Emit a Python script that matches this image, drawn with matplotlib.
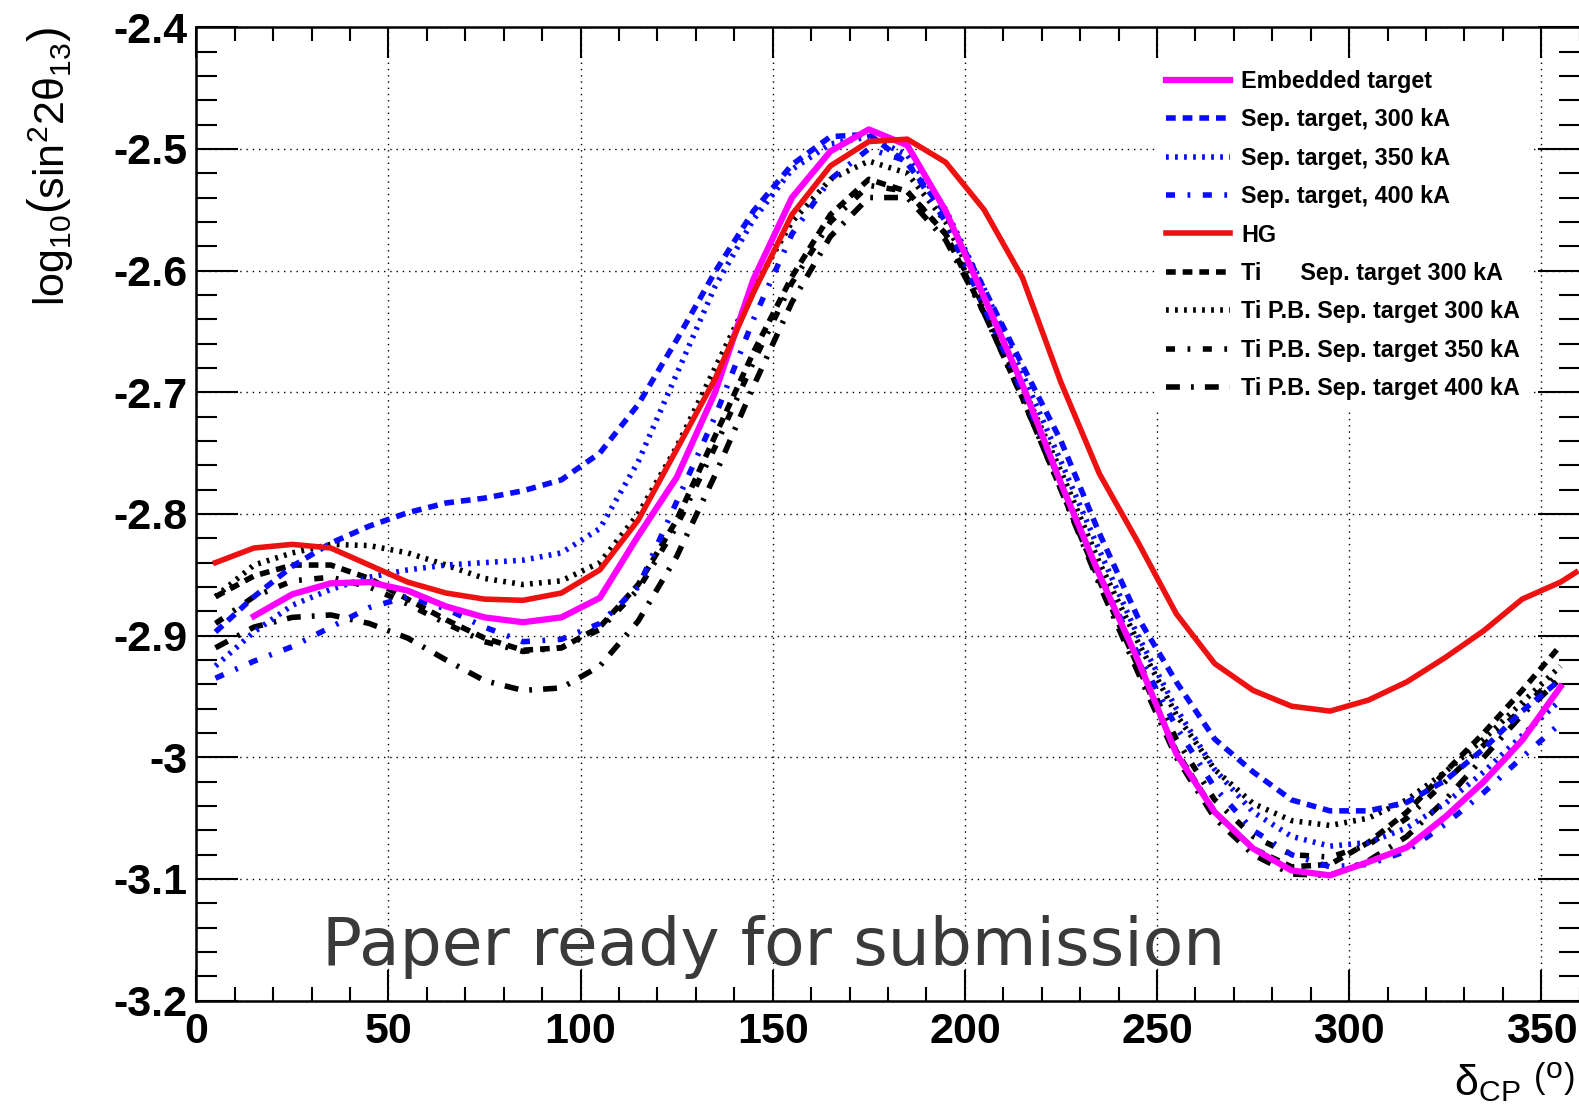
import numpy as np
import matplotlib
matplotlib.use("Agg")
import matplotlib.pyplot as plt
from matplotlib.ticker import MultipleLocator, FuncFormatter

plt.rcParams['font.family'] = ['Liberation Sans', 'DejaVu Sans']
plt.rcParams['axes.unicode_minus'] = False
plt.rcParams['mathtext.fontset'] = 'custom'
plt.rcParams['mathtext.rm'] = 'Liberation Sans'
plt.rcParams['mathtext.it'] = 'Liberation Sans:italic'
plt.rcParams['mathtext.bf'] = 'Liberation Sans:bold'
plt.rcParams['lines.scale_dashes'] = False

nan = np.nan

# delta_CP (deg)
delta = [5, 15, 25, 35, 45, 55, 65, 75, 85, 95, 105, 115, 125, 135, 145, 155, 165, 175,
         185, 195, 205, 215, 225, 235, 245, 255, 265, 275, 285, 295, 305, 315, 325, 335, 345, 355]

embedded = [nan, -2.884, -2.866, -2.857, -2.856, -2.863, -2.876, -2.885, -2.889, -2.885, -2.869, -2.818,
            -2.770, -2.700, -2.607, -2.540, -2.502, -2.484, -2.497, -2.551, -2.622, -2.694, -2.775, -2.850,
            -2.920, -2.997, -3.045, -3.075, -3.093, -3.097, -3.086, -3.074, -3.049, -3.020, -2.986, -2.942]
sep300 = [-2.897, -2.868, -2.843, -2.824, -2.810, -2.799, -2.791, -2.787, -2.781, -2.772, -2.750, -2.710,
          -2.657, -2.601, -2.551, -2.513, -2.490, -2.488, -2.512, -2.553, -2.615, -2.678, -2.740, -2.816,
          -2.885, -2.938, -2.985, -3.012, -3.035, -3.044, -3.044, -3.037, -3.019, -2.993, -2.962, -2.936]
sep350 = [-2.925, -2.897, -2.875, -2.862, -2.852, -2.846, -2.842, -2.840, -2.838, -2.832, -2.812, -2.757,
          -2.685, -2.613, -2.558, -2.517, -2.496, -2.490, -2.505, -2.550, -2.615, -2.685, -2.757, -2.830,
          -2.900, -2.960, -3.010, -3.045, -3.065, -3.073, -3.070, -3.058, -3.038, -3.012, -2.982, -2.953]
sep400 = [-2.935, -2.921, -2.909, -2.893, -2.877, -2.868, -2.878, -2.893, -2.905, -2.903, -2.890, -2.860,
          -2.790, -2.720, -2.640, -2.570, -2.525, -2.500, -2.510, -2.560, -2.630, -2.700, -2.775, -2.850,
          -2.915, -2.975, -3.025, -3.060, -3.080, -3.090, -3.088, -3.077, -3.055, -3.029, -3.000, -2.972]
ti300 = [-2.868, -2.851, -2.842, -2.842, -2.853, -2.870, -2.887, -2.902, -2.912, -2.910, -2.893, -2.858,
         -2.805, -2.736, -2.667, -2.605, -2.554, -2.525, -2.535, -2.570, -2.635, -2.705, -2.780, -2.855,
         -2.925, -2.995, -3.045, -3.075, -3.090, -3.088, -3.070, -3.045, -3.012, -2.980, -2.945, -2.908]
tipb300 = [-2.868, -2.842, -2.832, -2.825, -2.826, -2.832, -2.842, -2.853, -2.858, -2.855, -2.840, -2.800,
           -2.745, -2.680, -2.615, -2.560, -2.525, -2.510, -2.520, -2.560, -2.625, -2.695, -2.765, -2.840,
           -2.905, -2.965, -3.010, -3.038, -3.052, -3.056, -3.050, -3.035, -3.012, -2.985, -2.955, -2.925]
tipb350 = [-2.890, -2.868, -2.855, -2.852, -2.860, -2.874, -2.890, -2.905, -2.913, -2.910, -2.895, -2.862,
           -2.810, -2.745, -2.675, -2.610, -2.560, -2.530, -2.535, -2.570, -2.630, -2.700, -2.775, -2.850,
           -2.920, -2.985, -3.035, -3.065, -3.080, -3.082, -3.072, -3.050, -3.020, -2.990, -2.960, -2.930]
tipb400 = [-2.910, -2.893, -2.885, -2.883, -2.890, -2.902, -2.920, -2.937, -2.945, -2.943, -2.925, -2.888,
           -2.835, -2.768, -2.695, -2.626, -2.572, -2.540, -2.540, -2.575, -2.635, -2.705, -2.780, -2.858,
           -2.930, -3.000, -3.050, -3.080, -3.096, -3.097, -3.085, -3.065, -3.035, -3.000, -2.965, -2.935]

# HG curve runs up to the right edge
hg_delta = delta + [359]
hg = [-2.840, -2.828, -2.825, -2.828, -2.842, -2.856, -2.865, -2.870, -2.871, -2.865, -2.846, -2.805,
      -2.747, -2.689, -2.618, -2.554, -2.514, -2.494, -2.492, -2.511, -2.550, -2.606, -2.692, -2.767,
      -2.823, -2.882, -2.923, -2.945, -2.958, -2.962, -2.953, -2.938, -2.918, -2.896, -2.870, -2.856, -2.848]

labels = ['Embedded target', 'Sep. target, 300 kA', 'Sep. target, 350 kA', 'Sep. target, 400 kA',
          'HG', 'Ti      Sep. target 300 kA', 'Ti P.B. Sep. target 300 kA',
          'Ti P.B. Sep. target 350 kA', 'Ti P.B. Sep. target 400 kA']

fig = plt.figure(figsize=(15.79, 11.05), dpi=100)
ax = fig.add_axes([0.1243, 0.0944, 0.8762, 0.8810])

lw = 4
blue = '#0a0aff'
dash = (0, (7, 5))
dot = (0, (2, 4.5))
dashdot = (0, (6.5, 9, 2, 9))
longdashdot = (0, (10, 8, 2, 8))

h_ti300, = ax.plot(delta, ti300, color='k', lw=lw, ls=dash)
h_tipb300, = ax.plot(delta, tipb300, color='k', lw=lw, ls=dot)
h_tipb350, = ax.plot(delta, tipb350, color='k', lw=lw, ls=dashdot)
h_tipb400, = ax.plot(delta, tipb400, color='k', lw=lw, ls=longdashdot)
h_sep300, = ax.plot(delta, sep300, color=blue, lw=lw, ls=dash)
h_sep350, = ax.plot(delta, sep350, color=blue, lw=lw, ls=dot)
h_sep400, = ax.plot(delta, sep400, color=blue, lw=lw, ls=dashdot)
h_emb, = ax.plot(delta, embedded, color='#ff00ff', lw=lw + 0.5, ls='-')
h_hg, = ax.plot(hg_delta, hg, color='#ee1111', lw=lw, ls='-')

ax.set_xlim(0, 360)
ax.set_ylim(-3.2, -2.4)

ax.xaxis.set_major_locator(MultipleLocator(50))
ax.xaxis.set_minor_locator(MultipleLocator(10))
ax.yaxis.set_major_locator(MultipleLocator(0.1))
ax.yaxis.set_minor_locator(MultipleLocator(0.02))
ax.yaxis.set_major_formatter(FuncFormatter(lambda v, p: '%g' % round(v, 3)))

ax.tick_params(which='both', direction='in', top=True, right=True, width=1.5, colors='k')
ax.tick_params(axis='x', which='major', length=22, pad=8)
ax.tick_params(axis='x', which='minor', length=10)
ax.tick_params(axis='y', which='major', length=30, pad=6)
ax.tick_params(axis='y', which='minor', length=15)
for lab in ax.get_xticklabels() + ax.get_yticklabels():
    lab.set_fontsize(31)
    lab.set_fontweight('bold')
for s in ax.spines.values():
    s.set_linewidth(1.8)

ax.grid(True, which='major', color='k', lw=1, ls=(0, (1, 3.5)))

ax.set_ylabel(r'log$_{10}$$\left(\mathrm{sin}^{2}2\mathrm{\theta}_{13}\right)$', fontsize=31, loc='top')
ax.yaxis.set_label_coords(-0.087, 1.0)
ax.set_xlabel(r'$\mathrm{\delta}_{\mathrm{CP}}$ $\left(^{\mathrm{o}}\right)$', fontsize=31, loc='right')
ax.xaxis.set_label_coords(0.996, -0.061)

handles = [h_emb, h_sep300, h_sep350, h_sep400, h_hg, h_ti300, h_tipb300, h_tipb350, h_tipb400]
leg = ax.legend(handles, labels, loc='upper left', bbox_to_anchor=(0.6939, 0.9656), frameon=True,
                prop={'size': 16.8, 'weight': 'bold'}, handlelength=2.77, handletextpad=0.47,
                labelspacing=0.66, borderpad=0.4, borderaxespad=0, fancybox=False)
leg.get_frame().set_facecolor('white')
leg.get_frame().set_edgecolor('none')
leg.get_frame().set_alpha(1)

fig.text(0.204, 0.1267, 'Paper ready for submission', fontsize=47.8, color='#3a3a3a',
         family='DejaVu Sans', ha='left', va='baseline')

fig.savefig('out.png', dpi=100)
